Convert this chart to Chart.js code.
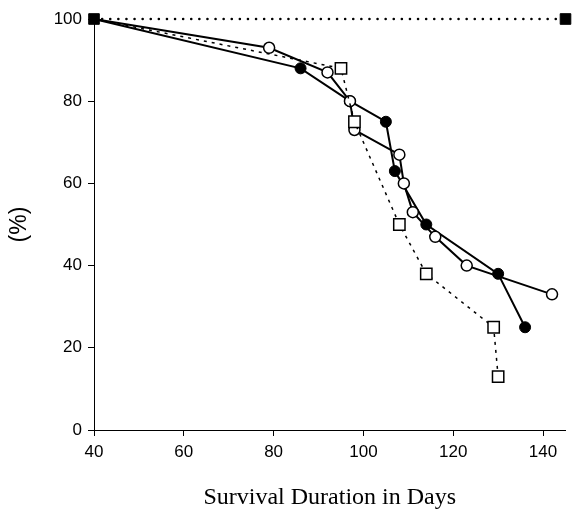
<!DOCTYPE html>
<html>
<head>
<meta charset="utf-8">
<script src="https://cdn.jsdelivr.net/npm/chart.js@4/dist/chart.umd.min.js"></script>
<style>
  body { margin: 0; background: #fff; }
  #wrap { width: 575px; height: 514px; }
</style>
</head>
<body>
<div id="wrap"><canvas id="myCanvas" width="575" height="514"></canvas></div>
<script>
// survival (%) vs days, four groups
var filledSqX = [40, 145];
var filledSqY = [100, 100];

var filledCircX = [40, 86, 97, 105, 107, 114, 130, 136];
var filledCircY = [100, 88, 80, 75, 63, 50, 38, 25];

var openCircX = [40, 79, 92, 97, 98, 108, 109, 111, 116, 123, 142];
var openCircY = [100, 93, 87, 80, 73, 67, 60, 53, 47, 40, 33];

var openSqX = [40, 95, 98, 108, 114, 129, 130];
var openSqY = [100, 88, 75, 50, 38, 25, 13];

var xTicks = [40, 60, 80, 100, 120, 140];
var yTicks = [0, 20, 40, 60, 80, 100];

function pts(xs, ys){
    var out = [];
    for (var i = 0; i < xs.length; i++) out.push({x: xs[i], y: ys[i]});
    return out;
}

// hide the shared start marker, the black square covers it
function radiusSkipFirst(r){
    return function(c){ return c.dataIndex === 0 ? 0 : r; };
}

var ctx = document.getElementById('myCanvas').getContext('2d');
var tickFont = {family: 'Liberation Sans, Arial, sans-serif', size: 17};

// chart.js draws dataset 0 on top
var myChart = new Chart(ctx, {
    type: 'scatter',
    data: {
        datasets: [{
            data: pts(filledSqX, filledSqY),
            showLine: true,
            borderColor: '#000',
            borderWidth: 2.5,
            borderDash: [0.1, 8],
            borderCapStyle: 'round',
            pointStyle: 'rect',
            pointRadius: 7.5,
            pointBackgroundColor: '#000',
            pointBorderColor: '#000',
            pointBorderWidth: 1,
            clip: false
        }, {
            data: pts(openSqX, openSqY),
            showLine: true,
            borderColor: '#000',
            borderWidth: 1.5,
            borderDash: [3, 5],
            pointStyle: 'rect',
            pointRadius: radiusSkipFirst(8),
            pointBackgroundColor: '#fff',
            pointBorderColor: '#000',
            pointBorderWidth: 1.5,
            clip: false
        }, {
            data: pts(openCircX, openCircY),
            showLine: true,
            borderColor: '#000',
            borderWidth: 2,
            pointStyle: 'circle',
            pointRadius: radiusSkipFirst(5.5),
            pointBackgroundColor: '#fff',
            pointBorderColor: '#000',
            pointBorderWidth: 1.5,
            clip: false
        }, {
            data: pts(filledCircX, filledCircY),
            showLine: true,
            borderColor: '#000',
            borderWidth: 2,
            pointStyle: 'circle',
            pointRadius: radiusSkipFirst(5.5),
            pointBackgroundColor: '#000',
            pointBorderColor: '#000',
            pointBorderWidth: 1,
            clip: false
        }]
    },
    options: {
        responsive: false,
        animation: false,
        layout: { padding: { top: 19, right: 6, left: 0, bottom: 0 } },
        plugins: { legend: { display: false }, tooltip: { enabled: false } },
        scales: {
            x: {
                type: 'linear',
                min: 40,
                max: 145,
                afterBuildTicks: function(axis){
                    axis.ticks = xTicks.map(function(v){ return {value: v}; });
                },
                afterFit: function(axis){ axis.height = 84; },
                ticks: { color: '#000', font: tickFont, padding: 6, maxRotation: 0 },
                grid: { drawOnChartArea: false, tickLength: 6, color: '#000' },
                border: { color: '#000', width: 1 },
                title: {
                    display: true,
                    text: 'Survival Duration in Days',
                    color: '#000',
                    font: { family: 'Liberation Serif, Times New Roman, serif', size: 24 },
                    padding: { top: 0, bottom: 2 }
                }
            },
            y: {
                min: 0,
                max: 100,
                afterBuildTicks: function(axis){
                    axis.ticks = yTicks.map(function(v){ return {value: v}; });
                },
                afterFit: function(axis){ axis.width = 94; },
                ticks: { color: '#000', font: tickFont, padding: 6 },
                grid: { drawOnChartArea: false, tickLength: 6, color: '#000' },
                border: { color: '#000', width: 1 },
                title: {
                    display: true,
                    text: '(%)',
                    color: '#000',
                    font: { family: 'Liberation Sans, Arial, sans-serif', size: 23 },
                    padding: { top: 6, bottom: 0 }
                }
            }
        }
    }
});
</script>
</body>
</html>
